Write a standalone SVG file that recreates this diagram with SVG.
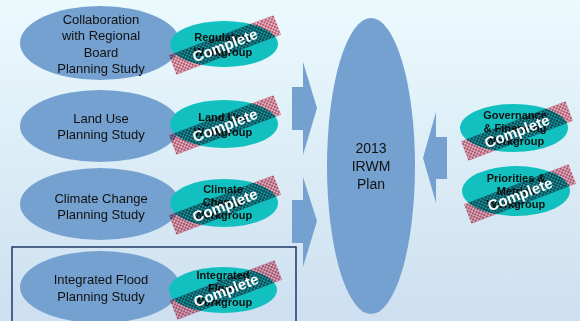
<svg xmlns="http://www.w3.org/2000/svg" width="580" height="321" viewBox="0 0 580 321">
<defs>
<linearGradient id="bg" x1="0" y1="0" x2="0" y2="1">
<stop offset="0" stop-color="#ebfafd"/>
<stop offset="1" stop-color="#cddff0"/>
</linearGradient>
<pattern id="hatch" width="4" height="4" patternUnits="userSpaceOnUse">
<rect width="4" height="4" fill="#f4c4cc"/>
<rect width="2" height="2" fill="#d4566a"/>
<rect x="2" y="2" width="2" height="2" fill="#d4566a"/>
</pattern>
</defs>
<style>
.study{fill:#74a1d0}
.wg{fill:#12c1bf}
.lt{font-family:"Liberation Sans",Arial,sans-serif;font-size:13px;fill:#111;text-anchor:middle}
.wt{font-family:"Liberation Sans",Arial,sans-serif;font-size:11px;font-weight:bold;fill:#111;text-anchor:middle}
.st{font-family:"Liberation Sans",Arial,sans-serif;font-size:15px;font-weight:bold;fill:#fff;text-anchor:middle}
.band{fill:url(#hatch);mix-blend-mode:multiply}
.arrow{fill:#74a1d0}
</style>
<rect width="580" height="321" fill="url(#bg)"/>
<rect x="12" y="247" width="284" height="80" fill="none" stroke="#1f3864" stroke-width="1.5"/>

<g id="connectors">
<polygon class="arrow" points="292,87 303,87 303,62 317,108 303,155 303,130 292,130"/>
<polygon class="arrow" points="292,200 303,200 303,177 317,221 303,267 303,243 292,243"/>
<polygon class="arrow" points="447,137 436,137 436,112 423,158 436,203 436,179 447,179"/>
</g>

<g id="plan">
<ellipse class="study" cx="371" cy="166" rx="44" ry="148"/>
<text class="lt" style="font-size:14px" x="371" y="153">2013</text>
<text class="lt" style="font-size:14px" x="371" y="171">IRWM</text>
<text class="lt" style="font-size:14px" x="371" y="189">Plan</text>
</g>

<g id="study-collab">
<ellipse class="study" cx="100" cy="43" rx="80" ry="37"/>
<text class="lt" x="101" y="24">Collaboration</text>
<text class="lt" x="101" y="40">with Regional</text>
<text class="lt" x="101" y="57">Board</text>
<text class="lt" x="101" y="73">Planning Study</text>
</g>
<g id="study-landuse">
<ellipse class="study" cx="100" cy="126" rx="80" ry="36"/>
<text class="lt" x="101" y="123">Land Use</text>
<text class="lt" x="101" y="139">Planning Study</text>
</g>
<g id="study-climate">
<ellipse class="study" cx="100" cy="204" rx="80" ry="36"/>
<text class="lt" x="101" y="203">Climate Change</text>
<text class="lt" x="101" y="219">Planning Study</text>
</g>
<g id="study-flood">
<ellipse class="study" cx="100" cy="287" rx="80" ry="36"/>
<text class="lt" x="101" y="284">Integrated Flood</text>
<text class="lt" x="101" y="301">Planning Study</text>
</g>

<g id="wg-regulatory">
<ellipse class="wg" cx="224" cy="44" rx="54" ry="23"/>
<text class="wt" x="223" y="41">Regulatory</text>
<text class="wt" x="223" y="56">Workgroup</text>
<rect class="band" x="-56" y="-10.5" width="112" height="21" transform="translate(225,45) rotate(-21)"/>
<text class="st" x="0" y="5.5" transform="translate(225,45) rotate(-21)">Complete</text>
</g>
<g id="wg-landuse">
<ellipse class="wg" cx="224" cy="124" rx="54" ry="24"/>
<text class="wt" x="223" y="121">Land Use</text>
<text class="wt" x="223" y="136">Workgroup</text>
<rect class="band" x="-56" y="-10.5" width="112" height="21" transform="translate(225,125) rotate(-21)"/>
<text class="st" x="0" y="5.5" transform="translate(225,125) rotate(-21)">Complete</text>
</g>
<g id="wg-climate">
<ellipse class="wg" cx="224" cy="203" rx="54" ry="24"/>
<text class="wt" x="223" y="193">Climate</text>
<text class="wt" x="223" y="206">Change</text>
<text class="wt" x="223" y="219">Workgroup</text>
<rect class="band" x="-56" y="-10.5" width="112" height="21" transform="translate(225,205) rotate(-21)"/>
<text class="st" x="0" y="5.5" transform="translate(225,205) rotate(-21)">Complete</text>
</g>
<g id="wg-flood">
<ellipse class="wg" cx="223" cy="290" rx="54" ry="23"/>
<text class="wt" x="223" y="279">Integrated</text>
<text class="wt" x="223" y="292">Flood</text>
<text class="wt" x="223" y="306">Workgroup</text>
<rect class="band" x="-56" y="-10.5" width="112" height="21" transform="translate(226,290) rotate(-21)"/>
<text class="st" x="0" y="5.5" transform="translate(226,290) rotate(-21)">Complete</text>
</g>
<g id="wg-governance">
<ellipse class="wg" cx="514" cy="128" rx="54" ry="24"/>
<text class="wt" x="515" y="119">Governance</text>
<text class="wt" x="515" y="132">&amp; Financing</text>
<text class="wt" x="515" y="145">Workgroup</text>
<rect class="band" x="-56" y="-10.5" width="112" height="21" transform="translate(517,131) rotate(-21)"/>
<text class="st" x="0" y="5.5" transform="translate(517,131) rotate(-21)">Complete</text>
</g>
<g id="wg-priorities">
<ellipse class="wg" cx="516" cy="191" rx="54" ry="25"/>
<text class="wt" x="516" y="182">Priorities &amp;</text>
<text class="wt" x="516" y="195">Metrics</text>
<text class="wt" x="516" y="208">Workgroup</text>
<rect class="band" x="-56" y="-10.5" width="112" height="21" transform="translate(520,194) rotate(-21)"/>
<text class="st" x="0" y="5.5" transform="translate(520,194) rotate(-21)">Complete</text>
</g>
</svg>
